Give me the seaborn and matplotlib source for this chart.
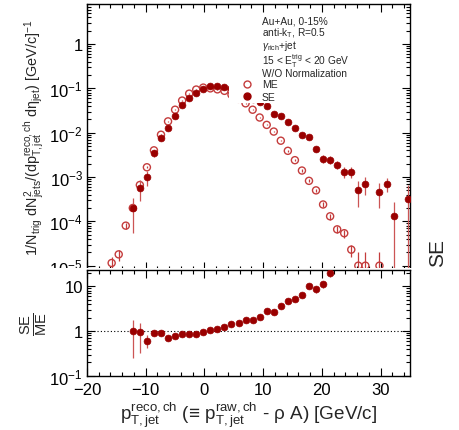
import numpy as np
import matplotlib
matplotlib.use("Agg")
import matplotlib.pyplot as plt
from matplotlib.lines import Line2D
from matplotlib.patches import Rectangle
from matplotlib.ticker import LogLocator, NullFormatter, FuncFormatter, MultipleLocator
import seaborn as sns

# ---- data -------------------------------------------------------------
pt_bins = [-15.8, -14.6, -13.4, -12.2, -11.0, -9.8, -8.6, -7.4, -6.2, -5.0,
           -3.8, -2.6, -1.4, -0.2, 1.0, 2.2, 3.4, 4.6, 5.8, 7.0,
           8.2, 9.4, 10.6, 11.8, 13.0, 14.2, 15.4, 16.6, 17.8, 19.0,
           20.2, 21.4, 22.6, 23.8, 25.0, 26.2, 27.4, 28.6, 29.8, 31.0,
           32.2, 33.4, 34.6]

nan = float("nan")

# mixed-event spectrum
me_vals = [1.15e-5, 1.8e-5, 8.0e-5, 2.0e-4, 6.6e-4, 1.66e-3, 4.0e-3, 9.0e-3, 1.8e-2, 3.3e-2,
           5.3e-2, 7.6e-2, 9.4e-2, 0.104, 0.100, 0.095, 0.088, 0.072, 0.058, 4.6e-2,
           3.3e-2, 2.2e-2, 1.5e-2, 1.06e-2, 6.6e-3, 3.9e-3, 2.4e-3, 1.4e-3, 8.2e-4, 5.0e-4,
           2.4e-4, 1.3e-4, 6.6e-5, 5.4e-5, 2.3e-5, 1.0e-5, 1.0e-5, nan, 1.0e-5, nan,
           nan, nan, nan]
me_errs = [4e-6, 5e-6, 1.2e-5, 2.5e-5, 5e-5, 9e-5, 1.5e-4, 2.5e-4, 4e-4, 6e-4,
           8e-4, 1e-3, 1e-3, 1e-3, 1e-3, 1e-3, 1e-3, 1e-3, 1e-3, 8e-4,
           6e-4, 5e-4, 4e-4, 3e-4, 2e-4, 1.5e-4, 1e-4, 8e-5, 6e-5, 4e-5,
           3e-5, 2e-5, 1.2e-5, 1.1e-5, 7e-6, 1.0e-5, 1.0e-5, nan, 1.0e-5, nan,
           nan, nan, nan]

# same-event spectrum
se_vals = [nan, nan, nan, 2.0e-4, 5.7e-4, 1.0e-3, 3.4e-3, 7.5e-3, 1.26e-2, 2.4e-2,
           4.3e-2, 6.2e-2, 7.9e-2, 0.098, 0.111, 0.111, 0.107, 0.103, 0.089, 0.080,
           0.059, 4.9e-2, 4.1e-2, 2.65e-2, 2.35e-2, 1.7e-2, 1.26e-2, 8.7e-3, 7.8e-3, 4.2e-3,
           2.6e-3, 2.45e-3, 1.9e-3, 1.3e-3, 1.3e-3, 5.1e-4, 7.0e-4, nan, 4.6e-4, 7.0e-4,
           1.3e-4, nan, 3.2e-4]
se_errs = [nan, nan, nan, 1.45e-4, 2.8e-4, 3.8e-4, 6e-4, 8e-4, 1e-3, 1.3e-3,
           1.6e-3, 2e-3, 2.2e-3, 2.4e-3, 2.5e-3, 2.5e-3, 2.5e-3, 2.4e-3, 2.2e-3, 2e-3,
           1.8e-3, 1.6e-3, 1.5e-3, 1.2e-3, 1.1e-3, 9e-4, 8e-4, 7e-4, 6e-4, 6e-4,
           5e-4, 5e-4, 4e-4, 3.7e-4, 3.7e-4, 3e-4, 3e-4, nan, 2.6e-4, 2.5e-4,
           1.4e-4, nan, 3.3e-4]

# SE / ME ratio
ratio_vals = [nan, nan, nan, 1.0, 0.93, 0.61, 0.91, 0.89, 0.71, 0.76,
              0.87, 0.84, 0.87, 0.96, 1.05, 1.10, 1.23, 1.43, 1.53, 1.75,
              1.79, 2.08, 2.74, 2.64, 3.7, 4.57, 5.3, 6.5, 10.2, 8.6,
              10.9, 20.0, nan, nan, nan, nan, nan, nan, nan, nan,
              nan, nan, nan]
ratio_errs = [nan, nan, nan, 0.75, 0.6, 0.2, 0.1, 0.06, 0.05, 0.05,
              0.05, 0.05, 0.05, 0.05, 0.05, 0.05, 0.06, 0.07, 0.08, 0.09,
              0.1, 0.12, 0.15, 0.18, 0.25, 0.35, 0.45, 0.6, 1.0, 1.5,
              1.6, 4.0, nan, nan, nan, nan, nan, nan, nan, nan,
              nan, nan, nan]

info_lines = ["Au+Au, 0-15%",
              r"anti-k$_{\rm T}$, R=0.5",
              r"$\gamma_{\rm rich}$+jet",
              r"15 < E$_{\rm T}^{\rm trig}$ < 20 GeV",
              "W/O Normalization"]
series_labels = ["ME", "SE"]

# ---- style ------------------------------------------------------------
sns.set_theme(style="ticks")
plt.rcParams["font.family"] = ["Liberation Sans", "DejaVu Sans"]
plt.rcParams["mathtext.fontset"] = "custom"
plt.rcParams["mathtext.rm"] = "Liberation Sans"
plt.rcParams["mathtext.it"] = "Liberation Sans:italic"
plt.rcParams["mathtext.bf"] = "Liberation Sans:bold"
plt.rcParams["mathtext.sf"] = "Liberation Sans"
plt.rcParams["axes.linewidth"] = 1.0

ME_COLOR = "#c43c3c"
SE_COLOR = "#9a0000"
BAR_COLOR = "#cc5555"

W, H = 459, 431
fig = plt.figure(figsize=(W / 100, H / 100), dpi=100)
fig.patch.set_facecolor("white")

left_px, right_px = 87, 410
top_px, mid_px, bot_px = 5, 270.5, 377

ax1 = fig.add_axes([left_px / W, (H - mid_px) / H, (right_px - left_px) / W, (mid_px - top_px) / H])
ax2 = fig.add_axes([left_px / W, (H - bot_px) / H, (right_px - left_px) / W, (bot_px - mid_px) / H])
ax1.set_zorder(0)
ax2.set_zorder(2)
# white pad under the ratio panel (hides overflow of the upper tick labels)
fig.add_artist(Rectangle((0, 0), 1, (H - mid_px + 1.5) / H, transform=fig.transFigure,
                         facecolor="white", edgecolor="none", zorder=1))

pt = np.array(pt_bins)
me = np.array(me_vals); me_e = np.array(me_errs)
se = np.array(se_vals); se_e = np.array(se_errs)
rt = np.array(ratio_vals); rt_e = np.array(ratio_errs)

for ax in (ax1, ax2):
    ax.set_yscale("log", nonpositive="clip")

# ---- upper panel: spectra ----------------------------------------------
ax1.errorbar(pt, me, yerr=me_e, fmt="none", ecolor=ME_COLOR, elinewidth=0.9, capsize=0, zorder=2)
sns.scatterplot(x=pt, y=me, ax=ax1, marker="o", s=26, facecolor="none",
                edgecolor=ME_COLOR, linewidth=1.0, zorder=3)
ax1.errorbar(pt, se, yerr=se_e, fmt="none", ecolor=BAR_COLOR, elinewidth=0.9, capsize=0, zorder=4)
sns.scatterplot(x=pt, y=se, ax=ax1, marker="o", s=24, color=SE_COLOR,
                edgecolor=SE_COLOR, linewidth=0.5, zorder=5)

ax1.set_xlim(-20, 35)
ax1.set_ylim(8.2e-6, 8.0)

# ---- lower panel: ratio ------------------------------------------------
ax2.axhline(1.0, color="black", ls=(0, (1, 2)), lw=0.8, zorder=1)
ax2.errorbar(pt, rt, yerr=rt_e, fmt="none", ecolor=BAR_COLOR, elinewidth=0.9, capsize=0, zorder=3)
sns.scatterplot(x=pt, y=rt, ax=ax2, marker="o", s=24, color=SE_COLOR,
                edgecolor=SE_COLOR, linewidth=0.5, zorder=4)
ax2.set_xlim(-20, 35)
ax2.set_ylim(0.1, 23.5)


def log_label(v, _pos):
    if np.isclose(v, 1):
        return "1"
    if np.isclose(v, 10):
        return "10"
    return r"$10^{%d}$" % int(round(np.log10(v)))


for ax in (ax1, ax2):
    ax.xaxis.set_major_locator(MultipleLocator(10))
    ax.xaxis.set_minor_locator(MultipleLocator(2))
    ax.yaxis.set_major_locator(LogLocator(base=10, numticks=20))
    ax.yaxis.set_minor_locator(LogLocator(base=10, subs=np.arange(2, 10), numticks=20))
    ax.yaxis.set_minor_formatter(NullFormatter())
    ax.yaxis.set_major_formatter(FuncFormatter(log_label))
    ax.tick_params(which="both", direction="in", top=True, right=True, width=0.8, colors="black")
    ax.tick_params(which="major", length=6, labelsize=12, pad=3)
    ax.tick_params(which="minor", length=3)
    for s in ax.spines.values():
        s.set_color("black")
        s.set_linewidth(1.0)
    ax.set_xlabel("")
    ax.set_ylabel("")

ax1.tick_params(axis="x", labelbottom=False)
ax2.tick_params(axis="x", pad=4.5)

ax1.set_ylabel(r"1/N$_{\rm trig}$ dN$^{2}_{\rm jets}$/(dp$^{\rm reco,ch}_{\rm T,jet}$ dη$_{\rm jet}$) [GeV/c]$^{-1}$",
               fontsize=10.4)
ax1.yaxis.set_label_coords(-0.124, 0.5)

ax2.set_ylabel(r"$\frac{\rm SE}{\rm ME}$", fontsize=15)
ax2.yaxis.set_label_coords(-0.118, 0.5)

ax2.set_xlabel(r"p$^{\rm reco,ch}_{\rm T,jet}$ (≡ p$^{\rm raw,ch}_{\rm T,jet}$ - ρ A) [GeV/c]", fontsize=13.6)
ax2.xaxis.set_label_coords(0.5, -0.215)

# ---- info box and legend -----------------------------------------------
def ax_frac(px_x, px_y):
    return ((px_x - left_px) / (right_px - left_px), (mid_px - px_y) / (mid_px - top_px))


bx0, by0 = ax_frac(229, 104)
bx1, by1 = ax_frac(356, 14)
ax1.add_patch(Rectangle((bx0, by0), bx1 - bx0, by1 - by0, transform=ax1.transAxes,
                        facecolor="white", edgecolor="none", zorder=8))

baselines_px = [25.0, 36.5, 49.0, 65.0, 77.0]
for line, yb in zip(info_lines, baselines_px):
    tx, ty = ax_frac(261.7, yb)
    ax1.text(tx, ty, line, transform=ax1.transAxes, fontsize=7.3, ha="left", va="baseline", zorder=11)

me_h = Line2D([], [], ls="none", marker="o", mfc="none", mec=ME_COLOR, mew=1.0, ms=5.0)
se_h = Line2D([], [], ls="none", marker="o", mfc=SE_COLOR, mec=SE_COLOR, ms=5.0)
lx, ly = ax_frac(241.5, 80.5)
leg = ax1.legend([me_h, se_h], series_labels,
                 loc="upper left", bbox_to_anchor=(lx, ly), fontsize=7.5,
                 frameon=False, handlelength=1.0, handletextpad=0.94,
                 labelspacing=0.2, borderpad=0.0, borderaxespad=0.0)
leg.set_zorder(10)

fig.text(438 / W, 1 - 253 / H, "SE", rotation=90, fontsize=15, ha="center", va="center")

fig.savefig("out.png", dpi=100, facecolor="white")
